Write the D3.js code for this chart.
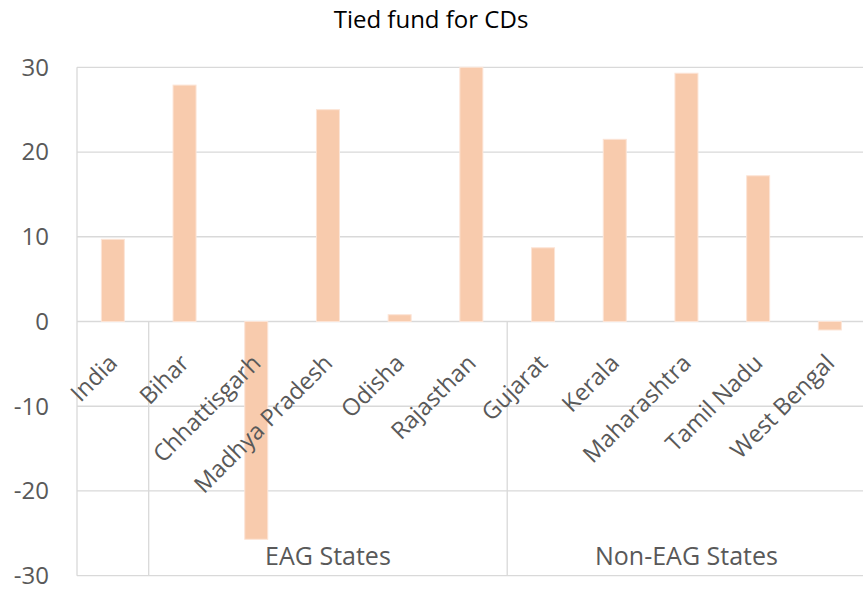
<!DOCTYPE html>
<html>
<head>
<meta charset="utf-8">
<script src="https://cdn.jsdelivr.net/npm/d3@7"></script>
<style>
  body { margin: 0; background: #fff; }
  text { font-family: "Open Sans", Lato, sans-serif; }
</style>
</head>
<body>
<div id="chart"></div>
<script>
// values
var states = ["India", "Bihar", "Chhattisgarh", "Madhya Pradesh", "Odisha", "Rajasthan",
              "Gujarat", "Kerala", "Maharashtra", "Tamil Nadu", "West Bengal"];
var values = [9.7, 27.9, -25.7, 25.0, 0.8, 30.0, 8.7, 21.5, 29.3, 17.2, -1.0];
var groups = [
  { name: "",               from: 0, to: 0 },
  { name: "EAG States",     from: 1, to: 5 },
  { name: "Non-EAG States", from: 6, to: 10 }
];
var yTicks = [-30, -20, -10, 0, 10, 20, 30];

var width = 863, height = 589
  , plotLeft = 77, band = 71.7
  , plotRight = plotLeft + band * states.length
  , plotTop = 67.3, plotBottom = 575.7
  , grid = "#d9d9d9"
  , labelColor = "#595959";

var svg = d3.select("#chart").append("svg")
  .attr("width", width)
  .attr("height", height);

var x = d3.scaleBand()
  .domain(states)
  .range([plotLeft, plotRight])
  .padding(0);

var y = d3.scaleLinear()
  .domain([-30, 30])
  .range([plotBottom, plotTop]);

var barW = 23;

// gridlines
svg.append("g").selectAll("line")
  .data(yTicks)
  .join("line")
    .attr("x1", plotLeft)
    .attr("x2", plotRight)
    .attr("y1", function (d) { return y(d); })
    .attr("y2", function (d) { return y(d); })
    .attr("stroke", grid)
    .attr("stroke-width", 1.3);

// y tick labels
svg.append("g").selectAll("text")
  .data(yTicks)
  .join("text")
    .attr("x", 49)
    .attr("y", function (d) { return y(d); })
    .attr("dy", "0.35em")
    .attr("text-anchor", "end")
    .attr("font-size", 24)
    .attr("fill", labelColor)
    .text(function (d) { return d; });

// left edge line, full height
svg.append("line")
  .attr("x1", plotLeft).attr("x2", plotLeft)
  .attr("y1", plotTop).attr("y2", plotBottom)
  .attr("stroke", grid)
  .attr("stroke-width", 1.3);

// group dividers below the zero line
var dividers = groups.map(function (g) { return x(states[g.to]) + band; });
svg.append("g").selectAll("line")
  .data(dividers)
  .join("line")
    .attr("x1", function (d) { return d; })
    .attr("x2", function (d) { return d; })
    .attr("y1", y(0))
    .attr("y2", plotBottom)
    .attr("stroke", grid)
    .attr("stroke-width", 1.3);

// bars
svg.append("g").selectAll("rect")
  .data(values)
  .join("rect")
    .attr("x", function (d, i) { return x(states[i]) + band / 2 - barW / 2; })
    .attr("width", barW)
    .attr("y", function (d) { return y(Math.max(0, d)); })
    .attr("height", function (d) { return Math.abs(y(d) - y(0)); })
    .attr("fill", "#f8cbad")
    .attr("stroke", "#fce4d6")
    .attr("stroke-width", 1);

// category labels, rotated
svg.append("g").selectAll("text")
  .data(states)
  .join("text")
    .attr("transform", function (d) {
      return "translate(" + (x(d) + band / 2) + "," + (y(0) + 37) + ") rotate(-45)";
    })
    .attr("text-anchor", "end")
    .attr("dy", "0.36em")
    .attr("font-size", 23.5)
    .attr("fill", labelColor)
    .text(function (d) { return d; });

// group labels
svg.append("g").selectAll("text")
  .data(groups.filter(function (g) { return g.name; }))
  .join("text")
    .attr("x", function (g) { return (x(states[g.from]) + x(states[g.to]) + band) / 2; })
    .attr("y", 565)
    .attr("text-anchor", "middle")
    .attr("font-size", 25)
    .attr("fill", labelColor)
    .text(function (g) { return g.name; });

// title
svg.append("text")
  .attr("x", 431)
  .attr("y", 28)
  .attr("text-anchor", "middle")
  .attr("font-size", 24)
  .attr("fill", "#000")
  .text("Tied fund for CDs");
</script>
</body>
</html>
